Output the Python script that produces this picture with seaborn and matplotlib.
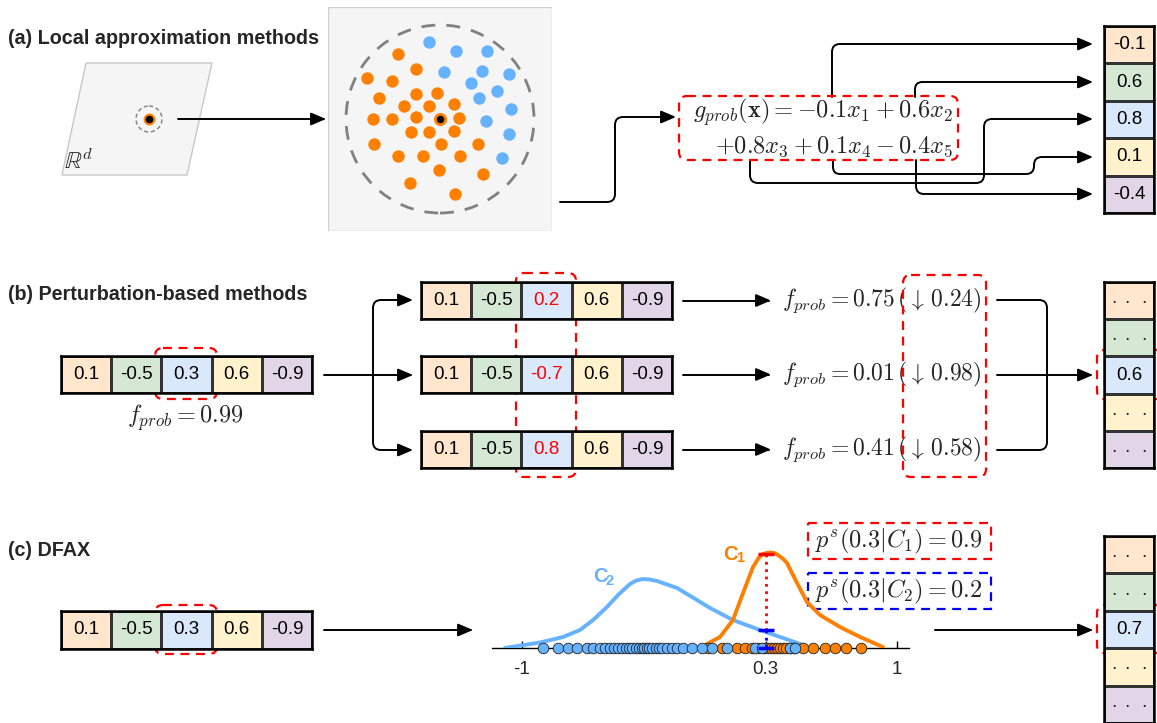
import numpy as np
import matplotlib
matplotlib.use('Agg')
import matplotlib.pyplot as plt
import seaborn as sns
from matplotlib.colors import ListedColormap
from matplotlib.path import Path
from matplotlib.patches import FancyArrowPatch, FancyBboxPatch, Polygon, Circle, Rectangle

# ---------------- data ----------------
cell_colors = ['#ffe6cc', '#d5e8d4', '#dae8fc', '#fff2cc', '#e1d5e7']
feature_values = [0.1, -0.5, 0.3, 0.6, -0.9]
coefficients = [-0.1, 0.6, 0.8, 0.1, -0.4]
perturbed_values = [0.2, -0.7, 0.8]
perturbed_probs = [0.75, 0.01, 0.41]
prob_drops = [0.24, 0.98, 0.58]
base_prob = 0.99
attribution_b = 0.6
attribution_c = 0.7
density_c1 = 0.9
density_c2 = 0.2
query_value = 0.3

# neighbours around the instance (offsets from the instance, px, y up)
orange_nx = [-42.3, -23.7, -73.3, -48.3, -60.7, -23.7, -2.7, -36, -11, 13.7, -66.7, -48.3,
             -23.7, 18.7, -29.3, -11, 13.7, -65.7, 1, 38.3, -42.3, -17.3, 20, -1, 43.3, -29.7, 14.7]
orange_ny = [64.7, 49.7, 40.7, 38.3, 20.7, 24.7, 26, 13, 13, 15.3, 0, 0,
             2.3, 1, -12.7, -12.7, -12, -25, -25, -25, -37.3, -37.3, -37.3, -51.3, -54.7, -63.7, -74.7]
blue_nx = [-11, 16, 47.3, 3.7, 42, 68.7, 31, 57, 38.7, 70.7, 46, 68.7, 62]
blue_ny = [76.7, 68, 68, 47.3, 48.3, 44.7, 35.7, 28.3, 20.7, 9.7, -1.7, -15.3, -38.7]

# DFAX: feature values of training samples per class
c2_points = [-0.888, -0.808, -0.755, -0.707, -0.653, -0.621, -0.584, -0.557, -0.531, -0.509,
             -0.488, -0.467, -0.445, -0.429, -0.413, -0.392, -0.376, -0.360, -0.349, -0.333,
             -0.323, -0.307, -0.285, -0.269, -0.253, -0.227, -0.200, -0.173, -0.141, -0.093,
             -0.040, 0.013, 0.093, 0.243, 0.280, 0.429, 0.456]
c1_points = [-0.008, 0.067, 0.147, 0.189, 0.227, 0.259, 0.291, 0.312, 0.328, 0.344, 0.360,
             0.376, 0.392, 0.408, 0.429, 0.451, 0.499, 0.552, 0.616, 0.669, 0.728, 0.808]
# density curves (arbitrary height units)
c2_curve_x = [-1.091, -0.904, -0.781, -0.691, -0.621, -0.547, -0.488, -0.424, -0.390, -0.355,
              -0.320, -0.280, -0.173, -0.067, 0.003, 0.125, 0.269, 0.392, 0.499]
c2_curve_y = [0, 5.5, 11, 18, 28, 41, 53, 64, 67.5, 69, 68.5, 67, 60, 48, 40, 28, 18, 10, 3]
c1_curve_x = [-0.024, 0.056, 0.125, 0.179, 0.232, 0.262, 0.285, 0.305, 0.323, 0.345, 0.365,
              0.390, 0.413, 0.467, 0.520, 0.589, 0.696, 0.803, 0.925]
c1_curve_y = [3, 11, 28, 55, 81, 90, 94, 95, 95.5, 95, 93, 89.5, 85, 65, 46, 33, 21, 11, 1]
c1_at_query = 94
c2_at_query = 18
axis_ticks = [-1, 0.3, 1]

# ---------------- style ----------------
sns.set_style('white')
plt.rcParams['font.family'] = ['Liberation Sans', 'DejaVu Sans']
plt.rcParams['mathtext.fontset'] = 'cm'

ORANGE = '#ff8000'
BLUE = '#66b2ff'
W, H = 1157, 723
fig = plt.figure(figsize=(W / 100, H / 100), dpi=100)
ax = fig.add_axes([0, 0, 1, 1])
ax.set_xlim(0, W)
ax.set_ylim(H, 0)
ax.axis('off')


def px_axes(x0, y0, x1, y1):
    return fig.add_axes([x0 / W, 1 - y1 / H, (x1 - x0) / W, (y1 - y0) / H])


def rounded_path(pts, r=8):
    verts, codes = [pts[0]], [Path.MOVETO]
    for i in range(1, len(pts) - 1):
        p0, p1, p2 = (np.array(p, float) for p in pts[i - 1:i + 2])
        d1 = (p1 - p0) / np.linalg.norm(p1 - p0)
        d2 = (p2 - p1) / np.linalg.norm(p2 - p1)
        rr = min(r, np.linalg.norm(p1 - p0) / 2, np.linalg.norm(p2 - p1) / 2)
        verts += [p1 - d1 * rr, p1, p1 + d2 * rr]
        codes += [Path.LINETO, Path.CURVE3, Path.CURVE3]
    verts.append(pts[-1])
    codes.append(Path.LINETO)
    return Path(verts, codes)


def connector(pts, head=True):
    style = '-|>,head_length=0.75,head_width=0.32' if head else '-'
    ax.add_patch(FancyArrowPatch(path=rounded_path(pts), arrowstyle=style, mutation_scale=12,
                                 color='black', lw=1.4, zorder=3))


def dashed_box(x0, y0, x1, y1, color='red', round_=True):
    style = 'round,pad=0,rounding_size=8' if round_ else 'square,pad=0'
    ax.add_patch(FancyBboxPatch((x0, y0), x1 - x0, y1 - y0, boxstyle=style, fill=False,
                                ec=color, lw=1.6, ls=(0, (4, 3)), zorder=6))


cell_cmap = ListedColormap(cell_colors)


def cell_strip(x0, y0, x1, y1, labels, vertical=False, red=(), fs=13.5):
    n = len(labels)
    shape = (n, 1) if vertical else (1, n)
    axc = px_axes(x0, y0, x1, y1)
    sns.heatmap(np.arange(n).reshape(shape), ax=axc, cmap=cell_cmap, vmin=0, vmax=n - 1,
                annot=np.array(labels, dtype=object).reshape(shape), fmt='', cbar=False,
                linewidths=1.0, linecolor='#333333', xticklabels=False, yticklabels=False,
                annot_kws={'fontsize': fs, 'color': 'black'})
    for sp in axc.spines.values():
        sp.set_visible(True)
        sp.set_linewidth(1.8)
        sp.set_color('black')
    for i in red:
        axc.texts[i].set_color('red')
    for t in axc.texts:
        if 'cdot' in t.get_text():
            t.set_color('#1a1a1a')
            t.set_fontsize(14)
    return axc


fmt = lambda v: f'{v:g}'
dots = r'$\cdot\;\cdot\;\cdot$'
MATH = 17.5

# ---------------- (a) local approximation ----------------
ax.text(8, 39, '(a) Local approximation methods', fontsize=14.2, fontweight='bold', va='center')
ax.add_patch(Polygon([(86, 63), (212, 63), (187, 175), (62, 175)], closed=True,
                     fc='#f5f5f5', ec='#c8c8c8', lw=1))
ax.add_patch(Circle((149, 119), 13, fill=False, ec='#808080', lw=1, ls=(0, (3, 2))))
ax.plot(149, 119, 'o', ms=7, mfc='black', mec=ORANGE, mew=1.5)
ax.text(64, 162, r'$\mathbb{R}^d$', fontsize=17, va='center')
connector([(178, 119), (326, 119)])

ax_n = px_axes(328, 7, 552, 231)
ax_n.add_patch(Rectangle((-112, -112), 224, 224, fc='#f5f5f5', ec='#d0d0d0', lw=1))
sns.scatterplot(x=orange_nx, y=orange_ny, color=ORANGE, s=80, linewidth=0, ax=ax_n)
sns.scatterplot(x=blue_nx, y=blue_ny, color=BLUE, s=80, linewidth=0, ax=ax_n)
sns.scatterplot(x=[0], y=[0], color='black', s=55, edgecolor=ORANGE, linewidth=2, ax=ax_n)
ax_n.add_patch(Circle((0, 0), 94, fill=False, ec='#808080', lw=2, ls=(0, (5, 4))))
ax_n.set_xlim(-112, 112)
ax_n.set_ylim(-112, 112)
ax_n.axis('off')
ax.text(522, 202, r'$g_{prob}$', fontsize=MATH, ha='center', va='center')

connector([(560, 202), (615, 202), (615, 117), (676, 117)])
dashed_box(679, 96, 958, 160)
ax.text(953, 112, r'$g_{prob}(\mathbf{x}) = -0.1x_1 + 0.6x_2$', fontsize=MATH, ha='right', va='center')
ax.text(953, 147, r'$+0.8x_3 + 0.1x_4 - 0.4x_5$', fontsize=MATH, ha='right', va='center')

connector([(832, 97), (832, 44), (1093, 44)])
connector([(915, 97), (915, 82), (1093, 82)])
connector([(750, 160), (750, 183), (984, 183), (984, 119), (1093, 119)])
connector([(833, 160), (833, 174), (1034, 174), (1034, 157), (1093, 157)])
connector([(916, 160), (916, 194), (1093, 194)])
cell_strip(1104, 26, 1154, 213, [fmt(v) for v in coefficients], vertical=True)

# ---------------- (b) perturbation ----------------
ax.text(8, 295, '(b) Perturbation-based methods', fontsize=14.2, fontweight='bold', va='center')
cell_strip(61, 356, 312, 393, [fmt(v) for v in feature_values])
dashed_box(155, 348, 217, 399)
ax.text(185, 418, rf'$f_{{prob}} = {base_prob}$', fontsize=MATH, ha='center', va='center')

connector([(324, 375), (413, 375)])
connector([(373, 375), (373, 300), (413, 300)])
connector([(373, 375), (373, 450), (413, 450)])

row_y = [(282, 319), (356, 393), (431, 468)]
for (y0, y1), pv, prob, drop in zip(row_y, perturbed_values, perturbed_probs, prob_drops):
    labels = [fmt(v) for v in feature_values]
    labels[2] = fmt(pv)
    cell_strip(421, y0, 672, y1, labels, red=[2])
    yc = (y0 + y1) / 2
    connector([(683, yc), (771, yc)])
    ax.text(782, yc, rf'$f_{{prob}} = {prob:.2f}\,(\downarrow\, {drop})$', fontsize=17, va='center')
dashed_box(516, 273, 576, 477)
dashed_box(903, 275, 986, 477)

connector([(997, 300), (1047, 300), (1047, 450), (997, 450)], head=False)
connector([(997, 375), (1093, 375)])
col_b = [dots, dots, fmt(attribution_b), dots, dots]
cell_strip(1104, 282, 1154, 468, col_b, vertical=True)
dashed_box(1097, 350, 1170, 399)

# ---------------- (c) DFAX ----------------
ax.text(8, 550, '(c) DFAX', fontsize=14.2, fontweight='bold', va='center')
cell_strip(61, 611, 312, 649, [fmt(v) for v in feature_values])
dashed_box(155, 605, 217, 654)
connector([(324, 630), (473, 630)])

x_lo = (492 - 522) / 187.5 - 1
x_hi = (909 - 522) / 187.5 - 1
ax_k = px_axes(492, 540, 909, 648)
sns.lineplot(x=c2_curve_x, y=c2_curve_y, color=BLUE, lw=2.8, ax=ax_k, zorder=3)
sns.lineplot(x=c1_curve_x, y=c1_curve_y, color=ORANGE, lw=2.8, ax=ax_k, zorder=3)
sns.scatterplot(x=c1_points, y=np.zeros(len(c1_points)), color=ORANGE, s=58,
                edgecolor='#222222', linewidth=0.6, ax=ax_k, zorder=4, clip_on=False)
sns.scatterplot(x=c2_points, y=np.zeros(len(c2_points)), color=BLUE, s=58,
                edgecolor='#222222', linewidth=0.6, ax=ax_k, zorder=4, clip_on=False)
ax_k.plot([query_value, query_value], [c1_at_query, c2_at_query], color='red', ls=':', lw=2, zorder=5)
ax_k.plot([query_value, query_value], [c2_at_query, 0], color='blue', ls=':', lw=2, zorder=5)
ax_k.plot([query_value], [c1_at_query], marker='_', ms=11, mew=2.5, color='red', zorder=6)
ax_k.plot([query_value, query_value], [c2_at_query, 0], ls='none', marker='_', ms=11, mew=2.5,
          color='blue', zorder=6, clip_on=False)
ax_k.set_xlim(x_lo, x_hi)
ax_k.set_ylim(0, 108)
ax_k.set_facecolor('none')
for side in ['top', 'right', 'left']:
    ax_k.spines[side].set_visible(False)
ax_k.spines['bottom'].set_color('black')
ax_k.spines['bottom'].set_linewidth(1)
ax_k.set_yticks([])
ax_k.set_xticks(axis_ticks)
ax_k.set_xticklabels([fmt(t) for t in axis_ticks])
ax_k.tick_params(axis='x', direction='in', length=5, width=1, pad=9, labelsize=13.5,
                 bottom=True, color='black')
ax_k.set_xlabel('')
ax_k.set_ylabel('')
if ax_k.get_legend():
    ax_k.get_legend().remove()

ax.text(723, 554, 'C', fontsize=14.5, fontweight='bold', color=ORANGE, va='center')
ax.text(736, 558, '1', fontsize=10.5, fontweight='bold', color=ORANGE, va='center')
ax.text(593, 577, 'C', fontsize=14.5, fontweight='bold', color=BLUE, va='center')
ax.text(606, 581, '2', fontsize=10.5, fontweight='bold', color=BLUE, va='center')

dashed_box(808, 523, 991, 559, color='red', round_=False)
dashed_box(808, 573, 991, 609, color='blue', round_=False)
ax.text(899, 541, rf'$p^s({query_value}|C_1) = {density_c1}$', fontsize=MATH, ha='center', va='center')
ax.text(899, 591, rf'$p^s({query_value}|C_2) = {density_c2}$', fontsize=MATH, ha='center', va='center')

connector([(935, 630), (1093, 630)])
col_c = [dots, dots, fmt(attribution_c), dots, dots]
cell_strip(1104, 536, 1154, 723, col_c, vertical=True)
dashed_box(1097, 605, 1170, 653)

fig.savefig('out.png', dpi=100)
